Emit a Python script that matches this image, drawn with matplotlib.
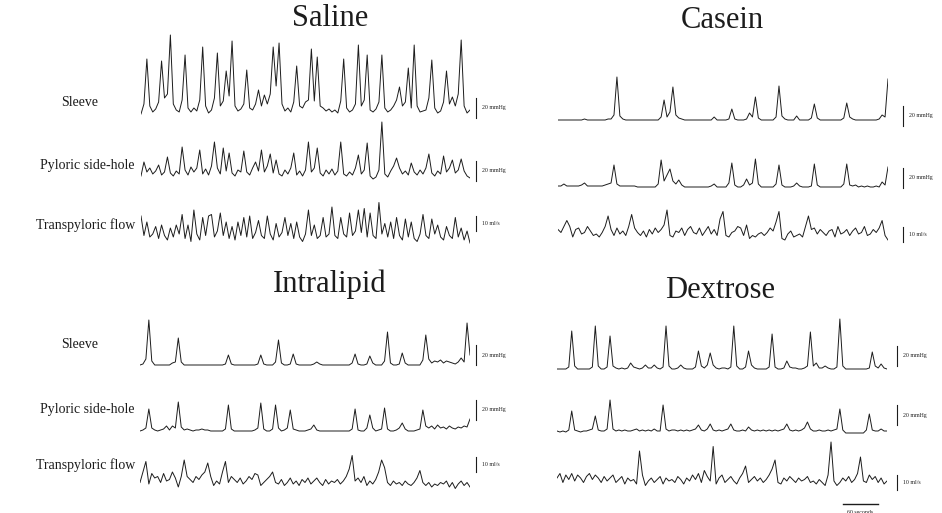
import numpy as np
import matplotlib
matplotlib.use('Agg')
import matplotlib.pyplot as plt

# traces sampled every 5 s (pressure in mmHg, flow in ml/s)
t = np.arange(113) * 5

saline_sleeve = [2, 12, 57, 10, 4, 7, 14, 55, 18, 22,
                 81, 12, 6, 4, 16, 61, 8, 4, 8, 5,
                 16, 69, 10, 3, 6, 18, 63, 10, 15, 45,
                 20, 75, 10, 5, 7, 12, 46, 8, 6, 12,
                 26, 10, 21, 12, 22, 69, 30, 73, 12, 5,
                 8, 4, 14, 50, 10, 8, 14, 16, 67, 15,
                 59, 10, 8, 5, 7, 4, 6, 3, 15, 57,
                 8, 4, 6, 12, 71, 10, 16, 61, 6, 4,
                 7, 14, 61, 8, 4, 6, 10, 16, 29, 10,
                 14, 48, 8, 71, 10, 4, 5, 6, 18, 56,
                 8, 3, 5, 14, 45, 12, 19, 10, 22, 76,
                 10, 3, 6]
saline_pyloric = [4, 18, 8, 12, 6, 9, 15, 5, 8, 23,
                  7, 4, 9, 6, 33, 10, 5, 13, 8, 12,
                  30, 6, 11, 5, 14, 38, 12, 6, 32, 9,
                  27, 7, 4, 10, 8, 29, 8, 5, 12, 18,
                  9, 30, 8, 14, 26, 7, 20, 6, 4, 10,
                  6, 12, 27, 5, 9, 4, 10, 38, 8, 12,
                  32, 7, 4, 10, 6, 11, 5, 9, 38, 6,
                  4, 8, 5, 12, 25, 6, 10, 37, 4, 1,
                  3, 10, 58, 6, 3, 9, 14, 22, 12, 6,
                  9, 5, 17, 8, 5, 10, 6, 12, 26, 7,
                  4, 9, 6, 24, 8, 12, 20, 7, 10, 21,
                  9, 4, 2]
saline_flow = [18, 5, 14, 4, 6, 11, 3, 12, 5, 2,
               10, 4, 12, 6, 19, 3, 12, 1, 22, 6,
               2, 17, 5, 18, 19, 4, 8, 20, 5, 14,
               3, 11, 2, 14, 5, 17, 4, 18, 3, 7,
               15, 5, 3, 18, 6, 2, 13, 4, 7, 17,
               5, 13, 3, 14, 4, 1, 6, 22, 5, 12,
               3, 5, 17, 4, 6, 24, 5, 3, 17, 6,
               4, 20, 5, 8, 22, 7, 23, 4, 20, 5,
               3, 27, 6, 13, 4, 14, 3, 17, 5, 2,
               16, 4, 14, 3, 1, 6, 19, 5, 3, 16,
               6, 12, 4, 2, 11, 5, 3, 17, 4, 10,
               2, 8, 0]

casein_sleeve = [0, 0, 0, 0, 0, 0, 0, 0, 0, 1,
                 0, 0, 0, 0, 0, 0, 0, 1, 1, 5,
                 43, 4, 1, 0, 0, 0, 0, 0, 0, 0,
                 0, 0, 0, 0, 0, 3, 20, 3, 8, 33,
                 5, 2, 1, 0, 0, 0, 0, 0, 0, 0,
                 0, 0, 0, 3, 0, 0, 0, 0, 1, 11,
                 1, 0, 0, 0, 1, 7, 3, 23, 2, 0,
                 0, 0, 0, 0, 3, 34, 4, 1, 0, 0,
                 0, 4, 0, 0, 0, 0, 2, 16, 2, 0,
                 0, 0, 0, 0, 0, 0, 0, 2, 17, 3,
                 1, 0, 0, 0, 0, 0, 0, 0, 0, 1,
                 5, 3, 41]
casein_pyloric = [1, 1, 3, 1, 1, 1, 1, 1, 2, 4,
                  1, 1, 1, 1, 1, 1, 2, 3, 4, 22,
                  3, 1, 1, 1, 1, 1, 1, 0, 0, 0,
                  0, 0, 0, 0, 3, 27, 6, 12, 18, 6,
                  3, 7, 2, 0, 0, 0, 0, 0, 0, 0,
                  0, 0, 1, 3, 0, 0, 0, 0, 4, 24,
                  2, 0, 0, 2, 8, 2, 4, 28, 3, 0,
                  0, 0, 0, 0, 3, 22, 2, 0, 0, 0,
                  1, 4, 1, 0, 0, 0, 1, 23, 2, 0,
                  0, 0, 0, 0, 0, 0, 0, 3, 23, 2,
                  1, 2, 0, 1, 0, 1, 0, 0, 1, 0,
                  5, 2, 20]
casein_flow = [7, 5, 9, 13, 9, 2, 7, 8, 4, 5,
               9, 6, 3, 4, 2, 5, 9, 16, 7, 3,
               8, 4, 6, 3, 9, 17, 8, 5, 3, 6,
               2, 7, 4, 8, 5, 7, 10, 20, 3, 2,
               6, 5, 8, 3, 7, 9, 5, 4, 8, 3,
               6, 9, 4, 7, 3, 14, 19, 3, 2, 5,
               6, 9, 8, 3, 10, 1, 3, 2, 4, 5,
               3, 5, 8, 6, 12, 19, 1, 0, 4, 6,
               2, 3, 4, 2, 9, 16, 7, 8, 4, 7,
               5, 3, 6, 7, 2, 9, 4, 5, 7, 3,
               6, 8, 4, 5, 9, 3, 4, 7, 5, 8,
               13, 3, 0]

intralipid_sleeve = [0, 1, 6, 45, 4, 0, 0, 0, 0, 0,
                     0, 2, 3, 27, 3, 0, 0, 0, 0, 0,
                     0, 0, 0, 0, 0, 0, 0, 0, 0, 1,
                     10, 1, 0, 0, 0, 0, 0, 0, 0, 0,
                     1, 10, 1, 0, 0, 0, 3, 25, 2, 0,
                     0, 1, 11, 1, 0, 0, 0, 0, 0, 1,
                     3, 1, 0, 0, 0, 0, 0, 0, 0, 0,
                     0, 0, 2, 11, 1, 0, 0, 1, 9, 2,
                     0, 0, 0, 4, 33, 2, 0, 0, 1, 12,
                     2, 0, 0, 0, 0, 0, 5, 30, 6, 2,
                     4, 3, 5, 2, 4, 3, 2, 1, 3, 7,
                     3, 42, 10]
intralipid_pyloric = [0, 1, 3, 22, 3, 1, 0, 1, 2, 5,
                      1, 5, 3, 29, 4, 1, 2, 1, 0, 1,
                      1, 2, 1, 1, 0, 0, 0, 0, 0, 2,
                      26, 2, 0, 0, 0, 0, 0, 0, 0, 1,
                      3, 28, 2, 0, 0, 2, 26, 3, 0, 1,
                      3, 21, 2, 1, 0, 0, 0, 1, 2, 6,
                      1, 0, 0, 0, 0, 0, 0, 0, 0, 0,
                      0, 0, 2, 22, 1, 0, 0, 3, 16, 3,
                      0, 1, 2, 23, 2, 0, 0, 1, 3, 8,
                      2, 0, 0, 0, 1, 2, 21, 5, 3, 5,
                      2, 6, 3, 4, 2, 5, 3, 2, 4, 3,
                      5, 4, 12]
intralipid_flow = [5, 12, 19, 4, 11, 8, 9, 5, 11, 6,
                   7, 12, 8, 2, 9, 20, 9, 7, 5, 9,
                   7, 10, 12, 18, 9, 3, 6, 4, 12, 19,
                   5, 9, 7, 5, 8, 4, 6, 9, 7, 11,
                   10, 3, 5, 7, 9, 12, 5, 4, 7, 3,
                   5, 8, 4, 6, 3, 7, 5, 8, 4, 6,
                   8, 5, 3, 7, 4, 6, 5, 7, 4, 6,
                   9, 14, 23, 6, 8, 5, 9, 3, 6, 4,
                   7, 12, 20, 15, 5, 3, 6, 4, 5, 3,
                   6, 4, 3, 5, 8, 13, 5, 3, 5, 2,
                   4, 3, 5, 4, 6, 2, 5, 1, 4, 6,
                   3, 5, 2]

dextrose_sleeve = [0, 0, 0, 0, 2, 38, 3, 0, 0, 0,
                   0, 0, 2, 43, 3, 0, 0, 2, 33, 3,
                   1, 0, 1, 0, 1, 6, 2, 1, 0, 1,
                   4, 1, 1, 4, 1, 0, 2, 43, 3, 0,
                   0, 1, 4, 1, 0, 0, 0, 2, 18, 3,
                   1, 4, 16, 4, 1, 0, 1, 1, 0, 2,
                   43, 3, 0, 0, 2, 18, 4, 1, 0, 0,
                   0, 0, 2, 35, 2, 0, 0, 1, 8, 2,
                   1, 1, 0, 0, 1, 3, 37, 3, 6, 1,
                   1, 3, 1, 0, 0, 2, 50, 3, 0, 0,
                   0, 0, 0, 0, 0, 0, 1, 17, 3, 1,
                   5, 1, 0]
dextrose_pyloric = [1, 0, 1, 0, 2, 21, 2, 1, 0, 1,
                    1, 2, 3, 16, 2, 1, 1, 3, 32, 3,
                    1, 2, 1, 2, 1, 1, 2, 3, 1, 2,
                    1, 2, 1, 3, 1, 1, 27, 3, 1, 2,
                    2, 1, 2, 1, 2, 1, 2, 3, 7, 2,
                    1, 3, 8, 2, 1, 2, 1, 2, 3, 8,
                    2, 1, 1, 2, 1, 5, 2, 1, 2, 1,
                    2, 1, 2, 1, 2, 1, 2, 3, 8, 2,
                    1, 2, 1, 2, 4, 10, 3, 1, 1, 2,
                    1, 1, 2, 1, 2, 3, 23, 2, -1, -1,
                    -1, -1, -1, -1, -1, 2, 18, 2, 1, 1,
                    3, 1, 1]
dextrose_flow = [6, 9, 3, 8, 5, 9, 4, 8, 6, 3,
                 7, 9, 5, 8, 6, 3, 7, 4, 6, 8,
                 3, 5, 7, 2, 6, 4, 5, 2, 24, 8,
                 1, 4, 6, 3, 5, 7, 2, 6, 4, 5,
                 3, 7, 5, 2, 6, 4, 8, 5, 9, 3,
                 11, 7, 4, 27, 2, 6, 8, 3, 5, 7,
                 4, 2, 6, 9, 14, 3, 5, 7, 4, 6,
                 3, 5, 8, 12, 18, 3, 2, 6, 4, 7,
                 5, 3, 6, 4, 5, 7, 3, 4, 2, 5,
                 3, 1, 8, 30, 4, 1, 3, 6, 4, 7,
                 3, 5, 9, 20, 4, 3, 8, 5, 7, 3,
                 6, 2, 4]

W, H = 942, 513
fig = plt.figure(figsize=(W / 100, H / 100), dpi=100)
serif = ['Liberation Serif', 'DejaVu Serif']
ink = '#1c1c1c'


def px(x, y):
    return x / W, 1 - y / H


def add_trace(left, right, base, ppu, values, lo, hi):
    # base = pixel row of value 0, ppu = pixels per unit
    bottom = base - lo * ppu
    top = base - hi * ppu
    ax = fig.add_axes([left / W, 1 - bottom / H, (right - left) / W, (bottom - top) / H])
    ax.plot(t, values, color=ink, lw=0.7)
    ax.set_xlim(0, 560)
    ax.set_ylim(lo, hi)
    ax.axis('off')
    return ax


def scale_bar(ax, xb, y0, length, label):
    ax.plot([xb, xb], [y0, y0 + length], color=ink, lw=0.8, clip_on=False)
    ax.text(xb + 10, y0 + length / 2, label, fontsize=4.2, family=serif,
            va='center', ha='left', color=ink, clip_on=False)


# panel: title, title pos, left, right, bar x, traces (values, base, bar bottom)
panels = [
    ("Saline", (330, 19), 141, 470, 570,
     [(saline_sleeve, 116, -2), (saline_pyloric, 180, -1), (saline_flow, 243, 8)]),
    ("Casein", (722, 21), 558, 888, 585,
     [(casein_sleeve, 120, -6), (casein_pyloric, 187, -1), (casein_flow, 240, -1)]),
    ("Intralipid", (330, 284), 140, 470, 570,
     [(intralipid_sleeve, 365, 0), (intralipid_pyloric, 431, 11), (intralipid_flow, 490, 12)]),
    ("Dextrose", (720, 290), 557, 887, 577,
     [(dextrose_sleeve, 369, 3), (dextrose_pyloric, 432, 7), (dextrose_flow, 487, -2)]),
]

flow_ax = None
for title, (tx, ty), left, right, xb, traces in panels:
    fig.text(*px(tx, ty), title, fontsize=22, family=serif, ha='center', va='center', color=ink)
    for k, (vals, base, b0) in enumerate(traces):
        if k < 2:
            ax = add_trace(left, right, base, 1.0, vals, -15, 90)
            scale_bar(ax, xb, b0, 20, "20 mmHg")
        else:
            ax = add_trace(left, right, base, 1.5, vals, -15, 35)
            scale_bar(ax, xb, b0, 10, "10 ml/s")
            flow_ax = ax

# row labels on the left panels
labels = ["Sleeve", "Pyloric side-hole", "Transpyloric flow"]
for ys in [(103, 165, 225), (345, 410, 465)]:
    for lab, y, x in zip(labels, ys, (80, 87, 86)):
        fig.text(*px(x, y), lab, fontsize=10, family=serif, ha='center', va='center', color=ink)

# 60 second time bar under the dextrose flow trace
flow_ax.plot([485, 545], [-11.5, -11.5], color=ink, lw=1.0, clip_on=False)
flow_ax.text(515, -15, "60 seconds", fontsize=4.2, family=serif, ha='center', va='top',
             color=ink, clip_on=False)

fig.savefig("out.png", dpi=100)
